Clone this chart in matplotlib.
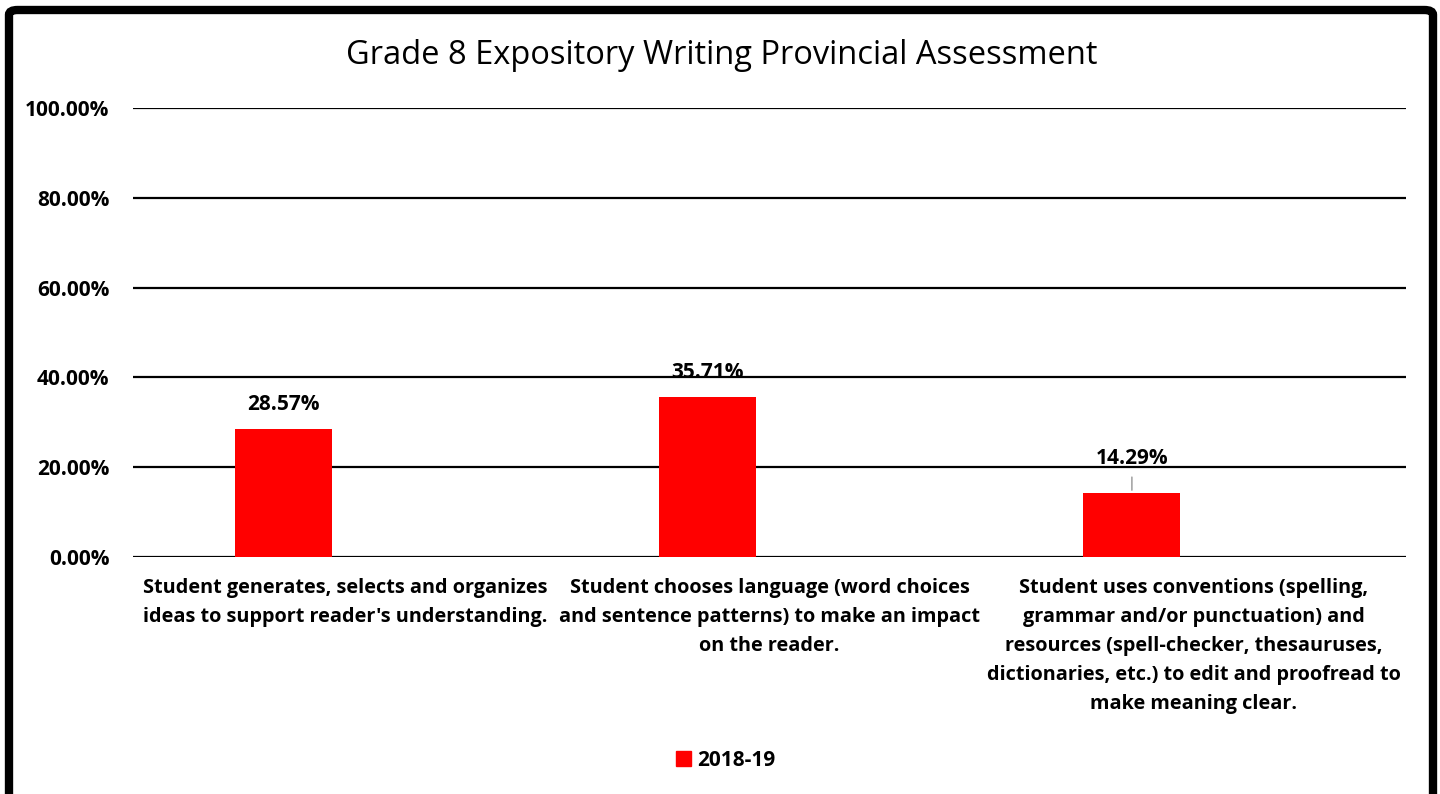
import matplotlib.pyplot as plt
from matplotlib.patches import FancyBboxPatch, Patch
from matplotlib.ticker import PercentFormatter

plt.rcParams['font.family'] = ['Open Sans', 'DejaVu Sans']

categories = [
    "Student generates, selects and organizes\nideas to support reader's understanding.",
    "Student chooses language (word choices\nand sentence patterns) to make an impact\non the reader.",
    "Student uses conventions (spelling,\ngrammar and/or punctuation) and\nresources (spell-checker, thesauruses,\ndictionaries, etc.) to edit and proofread to\nmake meaning clear.",
]
values = [28.57, 35.71, 14.29]
series_name = "2018-19"
yticks = [0, 20, 40, 60, 80, 100]

fig = plt.figure(figsize=(14.4, 7.94), dpi=100)
ax = fig.add_axes([133 / 1440, 1 - 557 / 794, (1406 - 133) / 1440, (557 - 108) / 794])

# frame around the whole chart
fig.patches.append(FancyBboxPatch((9 / 1440, -0.05), (1433 - 9) / 1440, 1.05 - 10 / 794,
                                  boxstyle="round,pad=0,rounding_size=0.006",
                                  transform=fig.transFigure, fill=False,
                                  edgecolor='black', linewidth=6, zorder=10))

x = [i - 0.146 for i in range(len(values))]
ax.bar(x, values, width=0.229, color='#FF0000', zorder=2)

offsets = [10, 10, 17]
for xi, v, off in zip(x, values, offsets):
    ax.annotate(f"{v:.2f}%", (xi, v), xytext=(0, off), textcoords='offset points',
                ha='center', va='bottom', fontsize=15, fontweight='bold')
# leader line for the last label
ax.annotate("", (x[2], values[2]), xytext=(x[2], values[2] + 4.1),
            arrowprops=dict(arrowstyle='-', color='#A6A6A6', lw=1.2))

ax.set_ylim(0, 100)
ax.set_xlim(-0.5, 2.5)
ax.set_yticks(yticks)
ax.yaxis.set_major_formatter(PercentFormatter(decimals=2))
ax.grid(axis='y', color='black', linewidth=1.6, zorder=0)
ax.set_axisbelow(True)
for s in ax.spines.values():
    s.set_visible(False)
ax.tick_params(axis='y', length=0, labelsize=15, pad=17)
for lab in ax.get_yticklabels():
    lab.set_fontweight('bold')
ax.set_xticks(range(len(categories)))
ax.set_xticklabels(categories, fontsize=14.3, fontweight='bold', linespacing=1.6)
ax.tick_params(axis='x', length=0, pad=15)

fig.text(722 / 1440, 1 - 55 / 794, "Grade 8 Expository Writing Provincial Assessment",
         ha='center', va='center', fontsize=23.5)

fig.legend(handles=[Patch(color='#FF0000', label=series_name)], loc='center',
           bbox_to_anchor=(726 / 1440, 1 - 760 / 794), frameon=False,
           prop={'weight': 'bold', 'size': 15}, handlelength=0.7, handleheight=0.7,
           handletextpad=0.3)

fig.savefig('out.png', dpi=100, facecolor='white')
